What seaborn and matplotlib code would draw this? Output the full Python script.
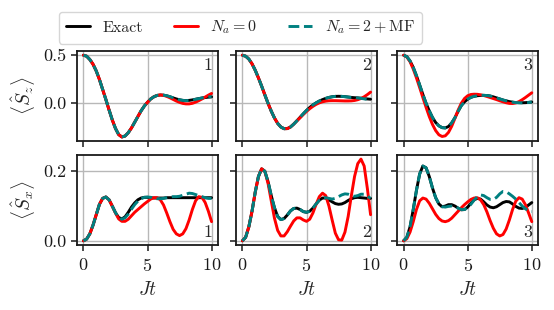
import matplotlib
matplotlib.use("Agg")
import matplotlib.pyplot as plt
import numpy as np
import seaborn as sns
from matplotlib.lines import Line2D

# ==================== DATA ====================
t = np.linspace(0, 10, 41)  # Jt, step 0.25

# <S_z>, top row
sz1_ex = [0.500, 0.490, 0.455, 0.405, 0.335, 0.245, 0.140, 0.035, -0.075, -0.180,
          -0.270, -0.335, -0.360, -0.350, -0.315, -0.265, -0.205, -0.145, -0.085, -0.035,
          0.005, 0.040, 0.063, 0.077, 0.082, 0.080, 0.073, 0.063, 0.051, 0.040,
          0.031, 0.025, 0.023, 0.025, 0.030, 0.037, 0.044, 0.050, 0.055, 0.059, 0.062]
sz1_n0 = [0.500, 0.490, 0.455, 0.405, 0.335, 0.245, 0.140, 0.035, -0.075, -0.180,
          -0.270, -0.335, -0.360, -0.350, -0.315, -0.265, -0.205, -0.145, -0.085, -0.035,
          0.005, 0.040, 0.063, 0.077, 0.082, 0.078, 0.067, 0.052, 0.035, 0.018,
          0.004, -0.007, -0.012, -0.012, -0.006, 0.006, 0.022, 0.040, 0.060, 0.080, 0.098]
sz1_mf = [0.500, 0.490, 0.455, 0.405, 0.335, 0.245, 0.140, 0.035, -0.075, -0.180,
          -0.270, -0.335, -0.360, -0.350, -0.315, -0.265, -0.205, -0.145, -0.085, -0.035,
          0.005, 0.040, 0.063, 0.077, 0.082, 0.080, 0.074, 0.064, 0.052, 0.041,
          0.031, 0.025, 0.022, 0.024, 0.029, 0.036, 0.043, 0.050, 0.056, 0.061, 0.064]

sz2_ex = [0.500, 0.490, 0.460, 0.410, 0.342, 0.262, 0.175, 0.083, -0.006, -0.088,
          -0.160, -0.217, -0.255, -0.273, -0.272, -0.255, -0.225, -0.190, -0.153, -0.116,
          -0.081, -0.050, -0.023, -0.001, 0.018, 0.033, 0.046, 0.056, 0.063, 0.067,
          0.068, 0.067, 0.064, 0.060, 0.056, 0.053, 0.051, 0.048, 0.044, 0.040, 0.037]
sz2_n0 = [0.500, 0.490, 0.460, 0.410, 0.342, 0.262, 0.175, 0.083, -0.006, -0.088,
          -0.160, -0.217, -0.255, -0.273, -0.272, -0.255, -0.225, -0.190, -0.158, -0.124,
          -0.092, -0.063, -0.038, -0.017, -0.001, 0.010, 0.017, 0.021, 0.022, 0.022,
          0.021, 0.020, 0.019, 0.019, 0.020, 0.024, 0.032, 0.045, 0.063, 0.086, 0.112]
sz2_mf = [0.500, 0.490, 0.460, 0.410, 0.342, 0.262, 0.175, 0.083, -0.006, -0.088,
          -0.160, -0.217, -0.255, -0.273, -0.272, -0.255, -0.225, -0.190, -0.153, -0.116,
          -0.081, -0.050, -0.023, -0.001, 0.018, 0.033, 0.046, 0.056, 0.063, 0.067,
          0.068, 0.067, 0.064, 0.060, 0.056, 0.053, 0.050, 0.046, 0.041, 0.036, 0.032]

sz3_ex = [0.500, 0.485, 0.440, 0.372, 0.285, 0.187, 0.088, -0.005, -0.085, -0.155,
          -0.208, -0.243, -0.262, -0.265, -0.250, -0.212, -0.158, -0.090, -0.030, 0.010,
          0.038, 0.057, 0.068, 0.074, 0.077, 0.078, 0.076, 0.071, 0.062, 0.051,
          0.040, 0.029, 0.020, 0.012, 0.006, 0.002, 0.001, 0.000, 0.001, 0.004, 0.008]
sz3_n0 = [0.500, 0.482, 0.432, 0.355, 0.262, 0.160, 0.055, -0.048, -0.145, -0.228,
          -0.293, -0.337, -0.355, -0.348, -0.312, -0.248, -0.165, -0.078, -0.005, 0.045,
          0.074, 0.087, 0.090, 0.089, 0.084, 0.076, 0.066, 0.055, 0.044, 0.033,
          0.021, 0.010, 0.000, -0.007, -0.008, -0.002, 0.012, 0.032, 0.055, 0.080, 0.105]
sz3_mf = [0.500, 0.485, 0.440, 0.372, 0.285, 0.187, 0.088, -0.005, -0.085, -0.155,
          -0.208, -0.243, -0.262, -0.265, -0.250, -0.212, -0.158, -0.090, -0.030, 0.010,
          0.038, 0.057, 0.068, 0.074, 0.077, 0.078, 0.076, 0.071, 0.062, 0.051,
          0.040, 0.029, 0.020, 0.012, 0.006, 0.002, 0.000, -0.001, 0.000, 0.003, 0.008]

# <S_x>, bottom row
sx1_ex = [0.000, 0.005, 0.020, 0.045, 0.075, 0.105, 0.122, 0.126, 0.118, 0.100,
          0.081, 0.067, 0.063, 0.069, 0.082, 0.097, 0.109, 0.118, 0.123, 0.125,
          0.125, 0.124, 0.123, 0.123, 0.123, 0.123, 0.124, 0.124, 0.124, 0.124,
          0.124, 0.124, 0.124, 0.124, 0.124, 0.124, 0.124, 0.124, 0.124, 0.124, 0.124]
sx1_n0 = [0.000, 0.005, 0.020, 0.045, 0.075, 0.105, 0.122, 0.126, 0.118, 0.100,
          0.080, 0.063, 0.056, 0.056, 0.062, 0.072, 0.082, 0.090, 0.098, 0.106,
          0.113, 0.120, 0.124, 0.124, 0.118, 0.103, 0.080, 0.055, 0.033, 0.020,
          0.015, 0.020, 0.035, 0.060, 0.090, 0.115, 0.127, 0.125, 0.110, 0.085, 0.055]
sx1_mf = [0.000, 0.005, 0.020, 0.045, 0.075, 0.105, 0.122, 0.126, 0.118, 0.100,
          0.081, 0.067, 0.062, 0.066, 0.077, 0.091, 0.104, 0.114, 0.121, 0.125,
          0.126, 0.125, 0.122, 0.121, 0.121, 0.122, 0.124, 0.126, 0.127, 0.127,
          0.128, 0.131, 0.134, 0.137, 0.136, 0.133, 0.130, 0.127, 0.124, 0.122, 0.122]

sx2_ex = [0.000, 0.010, 0.040, 0.085, 0.140, 0.185, 0.207, 0.200, 0.170, 0.130,
          0.095, 0.070, 0.061, 0.064, 0.074, 0.086, 0.093, 0.094, 0.090, 0.084,
          0.082, 0.085, 0.094, 0.106, 0.117, 0.123, 0.123, 0.118, 0.112, 0.107,
          0.105, 0.106, 0.110, 0.116, 0.121, 0.124, 0.125, 0.124, 0.123, 0.122, 0.122]
sx2_n0 = [0.000, 0.010, 0.040, 0.085, 0.140, 0.185, 0.207, 0.200, 0.165, 0.115,
          0.065, 0.030, 0.014, 0.014, 0.026, 0.042, 0.057, 0.066, 0.066, 0.060,
          0.056, 0.062, 0.080, 0.105, 0.127, 0.137, 0.130, 0.100, 0.060, 0.022,
          0.003, 0.002, 0.025, 0.070, 0.130, 0.185, 0.222, 0.235, 0.215, 0.150, 0.075]
sx2_mf = [0.000, 0.010, 0.040, 0.085, 0.140, 0.185, 0.207, 0.200, 0.170, 0.130,
          0.095, 0.070, 0.061, 0.064, 0.074, 0.086, 0.093, 0.094, 0.090, 0.084,
          0.082, 0.085, 0.094, 0.106, 0.117, 0.123, 0.124, 0.122, 0.120, 0.122,
          0.127, 0.132, 0.135, 0.134, 0.130, 0.128, 0.130, 0.134, 0.134, 0.128, 0.122]

sx3_ex = [0.000, 0.010, 0.040, 0.090, 0.145, 0.192, 0.215, 0.210, 0.185, 0.152,
          0.124, 0.106, 0.098, 0.100, 0.104, 0.104, 0.100, 0.094, 0.089, 0.090,
          0.097, 0.108, 0.118, 0.122, 0.120, 0.112, 0.103, 0.097, 0.095, 0.098,
          0.104, 0.110, 0.113, 0.112, 0.106, 0.099, 0.094, 0.093, 0.096, 0.103, 0.110]
sx3_n0 = [0.000, 0.006, 0.025, 0.055, 0.090, 0.115, 0.123, 0.120, 0.108, 0.092,
          0.076, 0.064, 0.057, 0.055, 0.058, 0.065, 0.075, 0.085, 0.095, 0.104,
          0.112, 0.119, 0.123, 0.124, 0.118, 0.104, 0.083, 0.058, 0.036, 0.020,
          0.014, 0.018, 0.034, 0.060, 0.090, 0.114, 0.124, 0.120, 0.104, 0.080, 0.055]
sx3_mf = [0.000, 0.010, 0.040, 0.090, 0.145, 0.192, 0.215, 0.210, 0.185, 0.152,
          0.124, 0.106, 0.098, 0.097, 0.099, 0.100, 0.098, 0.094, 0.090, 0.090,
          0.095, 0.105, 0.117, 0.127, 0.132, 0.130, 0.124, 0.119, 0.119, 0.125,
          0.135, 0.142, 0.141, 0.135, 0.128, 0.120, 0.110, 0.100, 0.092, 0.086, 0.084]

panel_labels = ["1", "2", "3"]
row_ylabels = [r"$\langle \hat{S}_z \rangle$", r"$\langle \hat{S}_x \rangle$"]
row_yticks = [[0.0, 0.5], [0.0, 0.2]]
xticks = [0, 5, 10]
legend_labels = ["Exact", r"$N_a = 0$", r"$N_a = 2 + \mathrm{MF}$"]

rows = [
    [(sz1_ex, sz1_n0, sz1_mf), (sz2_ex, sz2_n0, sz2_mf), (sz3_ex, sz3_n0, sz3_mf)],
    [(sx1_ex, sx1_n0, sx1_mf), (sx2_ex, sx2_n0, sx2_mf), (sx3_ex, sx3_n0, sx3_mf)],
]

# ==================== STYLE ====================
sns.set_theme(style="ticks")
plt.rcParams.update({
    "font.family": "serif",
    "font.serif": ["cmr10", "DejaVu Serif"],
    "mathtext.fontset": "cm",
    "axes.formatter.use_mathtext": True,
    "axes.edgecolor": "#1a1a1a",
    "axes.linewidth": 1.3,
    "xtick.color": "#1a1a1a",
    "ytick.color": "#1a1a1a",
    "xtick.major.size": 4,
    "ytick.major.size": 4,
    "xtick.major.width": 1.1,
    "ytick.major.width": 1.1,
    "xtick.major.pad": 5,
    "xtick.labelsize": 13,
    "ytick.labelsize": 13,
    "axes.labelsize": 14,
})

RED = "#ff0000"
TEAL = "#008080"

fig = plt.figure(figsize=(5.54, 3.10), dpi=100)
lefts = [0.139, 0.426, 0.717]
bottoms = [0.545, 0.210]
w, h = 0.2545, 0.290

first = None
for r, row in enumerate(rows):
    row_first = None
    for c, (ex, n0, mf) in enumerate(row):
        ax = fig.add_axes([lefts[c], bottoms[r], w, h],
                          sharex=first, sharey=row_first)
        if first is None:
            first = ax
        if row_first is None:
            row_first = ax

        sns.lineplot(x=t, y=ex, ax=ax, color="black", lw=2.1, zorder=2)
        sns.lineplot(x=t, y=n0, ax=ax, color=RED, lw=2.1, zorder=3)
        sns.lineplot(x=t, y=mf, ax=ax, color=TEAL, lw=2.1, linestyle="--", zorder=4)

        ax.grid(True, color="#b8b8b8", lw=1.0, zorder=0)
        ax.set_axisbelow(True)
        ax.set_xticks(xticks)
        ax.set_yticks(row_yticks[r])
        if c == 0:
            ax.yaxis.set_major_formatter(plt.FormatStrFormatter("%.1f"))
        else:
            ax.tick_params(labelleft=False)
        if r == 0:
            ax.tick_params(labelbottom=False)
            ax.set_xlabel("")
            ax.text(0.96, 0.93, panel_labels[c], transform=ax.transAxes,
                    ha="right", va="top", fontsize=13)
        else:
            ax.set_xlabel(r"$Jt$", labelpad=5)
            ax.text(0.96, 0.05, panel_labels[c], transform=ax.transAxes,
                    ha="right", va="bottom", fontsize=13)
        ax.set_ylabel(row_ylabels[r] if c == 0 else "")

handles = [
    Line2D([], [], color="black", lw=2.1),
    Line2D([], [], color=RED, lw=2.1),
    Line2D([], [], color=TEAL, lw=2.1, linestyle="--"),
]
fig.legend(handles, legend_labels, loc="center", bbox_to_anchor=(0.434, 0.911),
           ncol=3, fontsize=11.5, handlelength=1.5, handletextpad=0.8,
           columnspacing=1.9, frameon=True, fancybox=True, framealpha=0.8,
           borderpad=0.45)

fig.savefig("out.png", dpi=100)
